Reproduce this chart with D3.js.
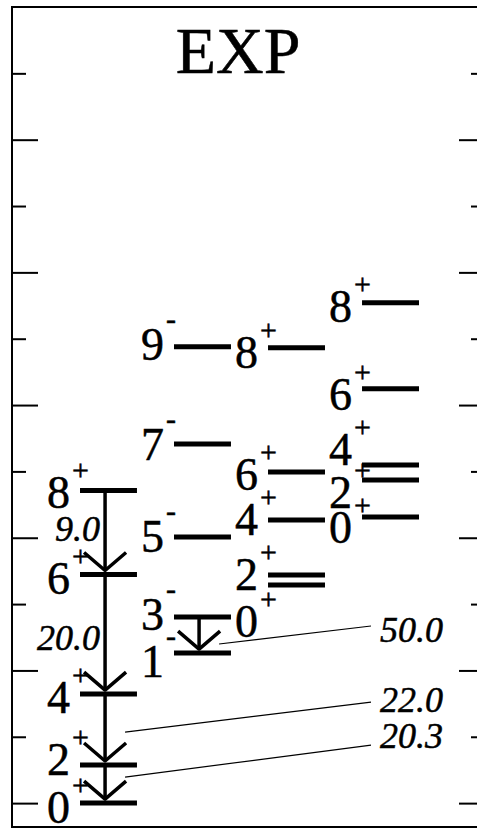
<!DOCTYPE html>
<html>
<head>
<meta charset="utf-8">
<script src="https://cdn.jsdelivr.net/npm/d3@7"></script>
<style>
  html, body { margin: 0; padding: 0; background: #fff; overflow: hidden; }
  svg { display: block; }
  text { font-family: "Liberation Serif", "Times New Roman", serif; fill: #000; stroke: #000; stroke-width: 0.5; }
</style>
</head>
<body>
<div id="chart"></div>
<script>
// Experimental level scheme: four bands, energies in MeV.
const bandNames = ["gsb", "oct", "b3", "b4"];

const gsbSpins = ["0", "2", "4", "6", "8"];
const gsbParity = "+";
const gsbEnergies = [0.0, 0.287, 0.822, 1.723, 2.357];

const octSpins = ["1", "3", "5", "7", "9"];
const octParity = "-";
const octEnergies = [1.131, 1.403, 2.006, 2.707, 3.439];

const b3Spins = ["0", "2", "4", "6", "8"];
const b3Parity = "+";
const b3Energies = [1.644, 1.719, 2.134, 2.496, 3.431];

const b4Spins = ["0", "2", "4", "6", "8"];
const b4Parity = "+";
const b4Energies = [2.157, 2.436, 2.549, 3.122, 3.771];

// In-band E2 transitions (from spin -> to spin) and their B(E2) values
const gsbTransFrom = ["8", "6", "4", "2"];
const gsbTransTo = ["6", "4", "2", "0"];
const gsbBE2 = [9.0, 20.0, 22.0, 20.3];
const octTransFrom = ["3"];
const octTransTo = ["1"];
const octBE2 = [50.0];

const majorTicks = [0, 1, 2, 3, 4, 5];
const minorTicks = [0.5, 1.5, 2.5, 3.5, 4.5, 5.5];
const title = "EXP";

// ---- layout ----
const W = 477, H = 829;
const frame = { left: 12, right: 485, top: 7, bottom: 827 };

// label baseline offsets (px below the level line), per band, in spin order
const labelDrop = {
  gsb: [20, 10, 19, 20, 18],
  oct: [24, 13, 15, 16, 13],
  b3:  [52, 15, 15, 18, 20],
  b4:  [26, 28, 0, 21, 19]
};
// B(E2) label placement relative to the transition midpoint
const be2Place = {
  "gsb:8": { mode: "side", dy: 8.5 },
  "gsb:6": { mode: "side", dy: 16 },
  "gsb:4": { mode: "lead", x: 380, dy: -17.5, y0: 2.5, y1: -27.5 },
  "gsb:2": { mode: "lead", x: 380, dy: -36, y0: -7, y1: -39 },
  "oct:3": { mode: "lead", x: 380, dy: 7, y0: 9, y1: -9 }
};

const bands = {
  gsb: { spins: gsbSpins, parity: gsbParity, energies: gsbEnergies },
  oct: { spins: octSpins, parity: octParity, energies: octEnergies },
  b3:  { spins: b3Spins,  parity: b3Parity,  energies: b3Energies },
  b4:  { spins: b4Spins,  parity: b4Parity,  energies: b4Energies }
};

const y = d3.scaleLinear().domain([-0.18, 6.0]).range([frame.bottom, frame.top]);
const x = d3.scaleBand().domain(bandNames).range([80, 419]).paddingInner(0.394).paddingOuter(0);

const svg = d3.select("#chart").append("svg")
  .attr("width", W).attr("height", H)
  .attr("viewBox", `0 0 ${W} ${H}`);

// frame
svg.append("rect")
  .attr("x", frame.left).attr("y", frame.top)
  .attr("width", frame.right - frame.left).attr("height", frame.bottom - frame.top)
  .attr("fill", "none").attr("stroke", "#000").attr("stroke-width", 2);

// inward ticks on both sides
function tickAxis(axisFn, xPos, values, size) {
  const g = svg.append("g")
    .attr("transform", `translate(${xPos},0)`)
    .call(axisFn(y).tickValues(values).tickSize(size).tickSizeOuter(0).tickFormat(""));
  g.select(".domain").remove();
  g.selectAll(".tick line").attr("stroke", "#000").attr("stroke-width", 2);
}
tickAxis(d3.axisRight, frame.left, majorTicks, 26);
tickAxis(d3.axisRight, frame.left, minorTicks, 14);
tickAxis(d3.axisLeft, frame.right, majorTicks, 26);
tickAxis(d3.axisLeft, frame.right, minorTicks, 14);

// title
svg.append("text")
  .attr("x", 238).attr("y", 73)
  .attr("text-anchor", "middle")
  .attr("font-size", 66)
  .text(title);

const levelG = svg.append("g");
const labelG = svg.append("g");
const transG = svg.append("g");

const digitSize = 46, supSize = 30;

bandNames.forEach(name => {
  const b = bands[name];
  const x1 = x(name), x2 = x(name) + x.bandwidth();
  const rows = b.spins.map((s, i) => ({ spin: s, E: b.energies[i], drop: labelDrop[name][i] }));

  levelG.selectAll(null).data(rows).enter().append("line")
    .attr("x1", x1).attr("x2", x2)
    .attr("y1", d => y(d.E)).attr("y2", d => y(d.E))
    .attr("stroke", "#000").attr("stroke-width", 5);

  const lx = x1 - 10;
  labelG.selectAll(null).data(rows).enter().append("text")
    .attr("x", lx).attr("y", d => y(d.E) + d.drop)
    .attr("text-anchor", "end")
    .attr("font-size", digitSize)
    .text(d => d.spin);

  labelG.selectAll(null).data(rows).enter().append("text")
    .attr("x", lx + 2)
    .attr("y", d => y(d.E) + d.drop - (b.parity === "+" ? 28 : 31))
    .attr("font-size", supSize)
    .attr("stroke-width", 0.9)
    .text(b.parity);
});

// transitions with arrowheads
function drawTransitions(name, from, to, vals) {
  const b = bands[name];
  const tx = x(name) + x.bandwidth() * 0.44;
  from.forEach((f, i) => {
    const yA = y(b.energies[b.spins.indexOf(f)]);
    const yB = y(b.energies[b.spins.indexOf(to[i])]);
    const tip = yB - 4;
    transG.append("line")
      .attr("x1", tx).attr("x2", tx).attr("y1", yA).attr("y2", tip)
      .attr("stroke", "#000").attr("stroke-width", 3.5);
    transG.append("path")
      .attr("d", `M${tx - 21},${tip - 18}L${tx},${tip}L${tx + 21},${tip - 18}`)
      .attr("fill", "none").attr("stroke", "#000").attr("stroke-width", 3.5)
      .attr("stroke-linejoin", "round");

    const mid = (yA + yB) / 2;
    const p = be2Place[`${name}:${f}`];
    const label = vals[i].toFixed(1);
    if (p.mode === "side") {
      transG.append("text")
        .attr("x", tx - 5).attr("y", mid + p.dy)
        .attr("text-anchor", "end")
        .attr("font-size", 36).attr("font-style", "italic")
        .attr("stroke-width", 0)
        .text(label);
    } else {
      transG.append("line")
        .attr("x1", tx + 20).attr("y1", mid + p.y0)
        .attr("x2", p.x - 9).attr("y2", mid + p.y1)
        .attr("stroke", "#000").attr("stroke-width", 1.2);
      transG.append("text")
        .attr("x", p.x).attr("y", mid + p.dy)
        .attr("font-size", 36).attr("font-style", "italic")
        .attr("stroke-width", 0)
        .text(label);
    }
  });
}
drawTransitions("gsb", gsbTransFrom, gsbTransTo, gsbBE2);
drawTransitions("oct", octTransFrom, octTransTo, octBE2);
</script>
</body>
</html>
